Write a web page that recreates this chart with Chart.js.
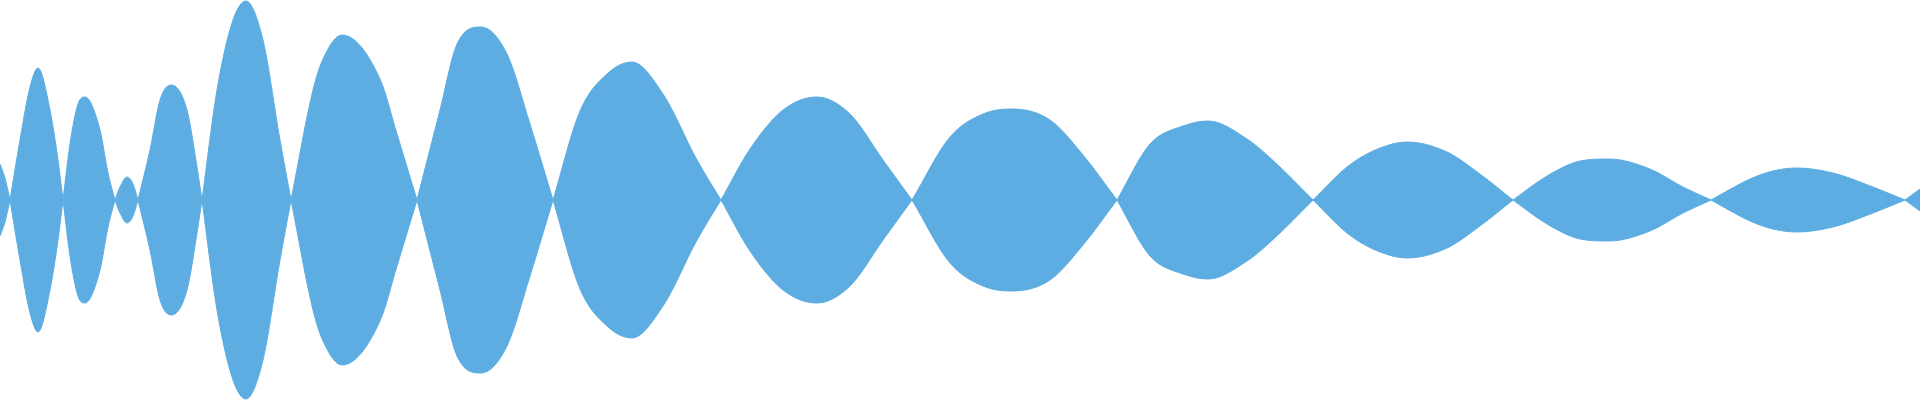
<!DOCTYPE html>
<html>
<head>
<meta charset="utf-8">
<title>Waveform</title>
<script src="https://cdn.jsdelivr.net/npm/chart.js@4"></script>
<style>
    html, body { margin: 0; padding: 0; background: #ffffff; }
    #wrap { width: 1920px; height: 400px; position: relative; }
</style>
</head>
<body>
<div id="wrap"><canvas id="waveChart"></canvas></div>
<script>
// --- 1. DATA ---

// Sample positions along the time axis (null rows split the lobes so each
// crossing stays a sharp pinch instead of a rounded dip)
const sampleX = [
    0, 5, 10, null,
    10, 20, 30, 38, 50, 58, 63, null,
    63, 70, 78, 85, 100, 108, 115, null,
    115, 120, 127, 133, 138, null,
    138, 150, 160, 171, 187, 197, 202, null,
    202, 217, 233, 246, 263, 280, 291, null,
    291, 313, 323, 342, 380, 397, 417, null,
    417, 440, 457, 481, 507, 530, 553, null,
    553, 580, 607, 632, 663, 697, 721, null,
    721, 750, 783, 817, 850, 883, 912, null,
    912, 950, 983, 1012, 1050, 1083, 1117, null,
    1117, 1150, 1183, 1208, 1247, 1280, 1313, null,
    1313, 1347, 1373, 1407, 1447, 1480, 1513, null,
    1513, 1547, 1580, 1609, 1650, 1683, 1711, null,
    1711, 1750, 1773, 1797, 1833, 1873, 1905, null,
    1905, 1920
];

// Envelope amplitude at each sample (mirrored below the centre line)
const amplitude = [
    36, 22, 0, null,
    0, 60, 113, 132, 90, 40, 0, null,
    0, 56, 96, 103, 70, 27, 0, null,
    0, 13, 23, 16, 0, null,
    0, 50, 100, 115, 90, 33, 0, null,
    0, 110, 180, 199, 160, 60, 0, null,
    0, 110, 141, 165, 121, 66, 0, null,
    0, 90, 156, 173, 146, 76, 0, null,
    0, 89, 126, 138, 106, 40, 0, null,
    0, 51, 90, 103, 86, 40, 0, null,
    0, 63, 86, 91, 80, 45, 0, null,
    0, 56, 74, 79, 61, 33, 0, null,
    0, 33, 49, 58, 48, 26, 0, null,
    0, 24, 39, 41, 31, 13, 0, null,
    0, 21, 29, 32, 27, 13, 0, null,
    0, 11
];

const waveColor = '#5dade2';

// --- 2. BUILD SERIES ---

const upper = sampleX.map((x, i) => ({ x: x === null ? sampleX[i - 1] : x, y: amplitude[i] }));
const lower = sampleX.map((x, i) => ({
    x: x === null ? sampleX[i - 1] : x,
    y: amplitude[i] === null ? null : -amplitude[i]
}));

// --- 3. CHART.JS CONFIGURATION ---

const ctx = document.getElementById('waveChart').getContext('2d');
const waveChart = new Chart(ctx, {
    type: 'line',
    data: {
        datasets: [
            {
                label: 'upper',
                data: upper,
                borderColor: waveColor,
                backgroundColor: waveColor,
                borderWidth: 1,
                pointRadius: 0,
                fill: '+1',
                cubicInterpolationMode: 'monotone',
                spanGaps: false
            },
            {
                label: 'lower',
                data: lower,
                borderColor: waveColor,
                backgroundColor: waveColor,
                borderWidth: 1,
                pointRadius: 0,
                fill: false,
                cubicInterpolationMode: 'monotone',
                spanGaps: false
            }
        ]
    },
    options: {
        responsive: true,
        maintainAspectRatio: false,
        animation: false,
        layout: { padding: 0 },
        scales: {
            x: { type: 'linear', min: 0, max: 1920, display: false },
            y: { min: -200, max: 200, display: false }
        },
        plugins: {
            legend: { display: false },
            tooltip: { enabled: false }
        }
    }
});
</script>
</body>
</html>
